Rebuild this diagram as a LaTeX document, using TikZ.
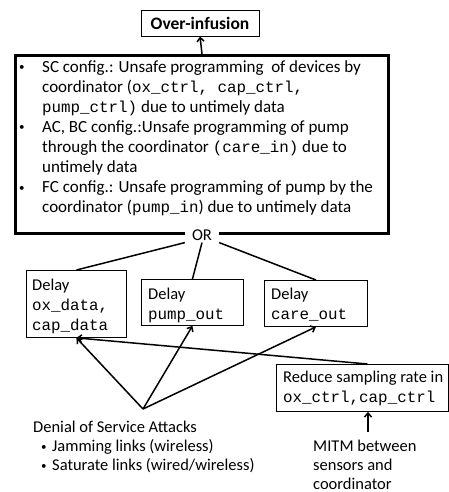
\documentclass[tikz,border=0pt]{standalone}
\usepackage{fontspec}
\setmainfont{Carlito}
\setmonofont{Liberation Mono}[Scale=0.96]
\usetikzlibrary{arrows.meta,shadows}
\newcommand{\smallbul}{{\fontsize{11}{11}\selectfont\raisebox{1.2pt}{\textbullet}}}
\begin{document}
\begin{tikzpicture}[x=1pt,y=-1pt,
  box/.style={draw,line width=0.9pt,inner sep=0pt,anchor=north west},
  bigbox/.style={draw,fill=white,line width=3pt,inner sep=0pt,anchor=north west,
    drop shadow={shadow xshift=1.5pt,shadow yshift=-1.5pt,opacity=0.3}},
  txt/.style={inner sep=0pt,anchor=north west,font=\fontsize{16.5}{20}\selectfont},
  conn/.style={line width=1.5pt},
  arr/.style={line width=1.5pt,-{Straight Barb[length=4pt,width=7pt]}}
]
\useasboundingbox (0,0) rectangle (449,492);

% top event
\node[box,anchor=center,minimum width=118pt,minimum height=26pt,
  font=\fontsize{17.5}{20}\selectfont\bfseries] (over) at (200,23) {Over-infusion};

% main cause box
\node[bigbox,minimum width=373pt,minimum height=178pt] (cause) at (14,54) {};
\node[txt,font=\fontsize{17}{20}\selectfont] (causetxt) at (19,58) {\begin{tabular}{@{}l@{}l@{}}
\makebox[23pt][l]{\smallbul} & SC config.: Unsafe programming\ \ of devices by\\
 & coordinator ({\fontsize{16.5}{20}\selectfont\texttt{ox\_ctrl, cap\_ctrl,}}\\
 & {\fontsize{16.5}{20}\selectfont\texttt{pump\_ctrl)}} due to untimely data\\
\makebox[23pt][l]{\smallbul} & AC, BC config.:Unsafe programming of pump\\
 & through the coordinator {\fontsize{16.5}{20}\selectfont\texttt{(care\_in)}} due to\\
 & untimely data\\
\makebox[23pt][l]{\smallbul} & FC config.: Unsafe programming of pump by the\\
 & coordinator ({\fontsize{16.5}{20}\selectfont\texttt{pump\_in}}) due to untimely data
\end{tabular}};
\draw[arr] (cause.north) -- (over.south);

% OR gate label
\node[fill=white,inner xsep=0pt,inner ysep=2pt,minimum width=34pt,
  font=\fontsize{16.5}{20}\selectfont] (or) at (cause.south) {OR};

% delay boxes
\node[box,minimum width=100pt,minimum height=67pt] (L) at (26,270) {};
\node[txt] (Ltxt) at (32,276) {\begin{tabular}{@{}l@{}}Delay\\\texttt{ox\_data,}\\\texttt{cap\_data}\end{tabular}};
\node[box,minimum width=102pt,minimum height=46pt] (M) at (141,279) {};
\node[txt] (Mtxt) at (148,285) {\begin{tabular}{@{}l@{}}Delay\\\texttt{pump\_out}\end{tabular}};
\node[box,minimum width=103pt,minimum height=46pt] (R) at (264,280) {};
\node[txt] (Rtxt) at (271,285) {\begin{tabular}{@{}l@{}}Delay\\\texttt{care\_out}\end{tabular}};

\draw[conn] (or.south west) -- (L.north);
\draw[conn] (or.south) -- (M.north);
\draw[conn] (or.south east) -- (R.north);

% reduce sampling box
\node[box,minimum width=172pt,minimum height=47pt] (Red) at (276,364) {};
\node[txt] (Redtxt) at (283,368.5) {\begin{tabular}{@{}l@{}}Reduce sampling rate in\\\texttt{ox\_ctrl,cap\_ctrl}\end{tabular}};

% DoS attacks
\coordinate (apex) at (143,409);
\node[txt,font=\fontsize{16.5}{19}\selectfont] (dos) at (33,418.7) {\begin{tabular}{@{}l@{}l@{}}
\multicolumn{2}{@{}l@{}}{Denial of Service Attacks}\\
\hspace{8pt}\makebox[11pt][l]{\smallbul} & Jamming links (wireless)\\
\hspace{8pt}\makebox[11pt][l]{\smallbul} & Saturate links (wired/wireless)
\end{tabular}};
\draw[arr] (apex) -- (L.south);
\draw[arr] (apex) -- (M.south);
\draw[arr] (apex) -- (R.south);
\draw[arr] ([xshift=5pt]Red.north) -- (L.south);

% MITM
\node[txt,font=\fontsize{16.5}{19}\selectfont] (mitm) at (313,437.7) {\begin{tabular}{@{}l@{}}MITM between\\sensors and\\coordinator\end{tabular}};
\coordinate (mitmtop) at (368,432);
\draw[arr] (mitmtop) -- (mitmtop |- Red.south);
\end{tikzpicture}
\end{document}
